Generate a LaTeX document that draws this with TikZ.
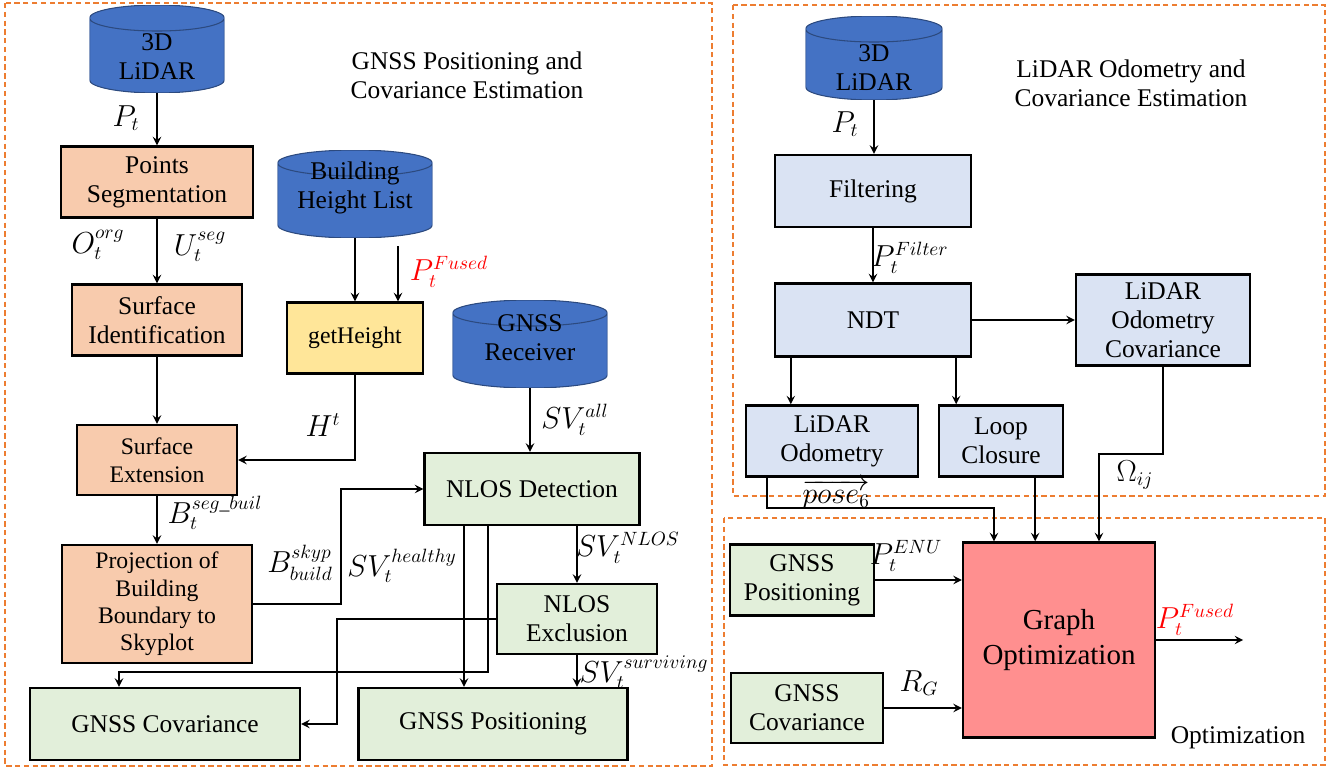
\documentclass[tikz,border=0pt]{standalone}
\usepackage{amsmath}
\usepackage{fontspec}
\setmainfont{Liberation Serif}
\usepackage{tikz}
\usetikzlibrary{shapes.geometric, arrows, calc}
\definecolor{cylblue}{HTML}{4472C4}
\definecolor{peach}{HTML}{F8CBAD}
\definecolor{sand}{HTML}{FFE699}
\definecolor{mint}{HTML}{E2EFDA}
\definecolor{sky}{HTML}{DAE3F3}
\definecolor{rose}{HTML}{FF8F8F}
\definecolor{frameorange}{HTML}{ED7D31}
\tikzstyle{store} = [rectangle, inner sep=0pt, path picture={
    \filldraw [fill=cylblue, draw=cylblue!65!black, line width=0.6pt]
      let \p1=(path picture bounding box.north west), \p2=(path picture bounding box.south east),
          \n1={(\x2-\x1)/2} in
      (\x1,\y1-7.4pt) -- (\x1,\y2+7.4pt) arc[start angle=180, end angle=360, x radius=\n1*1pt, y radius=7.4pt]
      -- (\x2,\y1-7.4pt) arc[start angle=0, end angle=180, x radius=\n1*1pt, y radius=7.4pt] -- cycle
      ({(\x1+\x2)/2},\y1-7.4pt) ellipse[x radius=\n1*1pt, y radius=7.4pt];
    }]
\tikzstyle{segstep} = [rectangle, inner sep=0pt, align=center, draw=black, line width=1.4pt, fill=peach]
\tikzstyle{heightstep} = [segstep, fill=sand]
\tikzstyle{gnssstep} = [segstep, fill=mint]
\tikzstyle{lidarstep} = [segstep, fill=sky]
\tikzstyle{optstep} = [segstep, fill=rose]
\tikzstyle{arrow} = [line width=1.1pt,->,>=stealth]
\tikzstyle{frame} = [draw=frameorange, line width=1.3pt, dash pattern=on 3pt off 2pt]
\tikzstyle{sym} = [font=\fontsize{16}{18}\selectfont]

\begin{document}
\begin{tikzpicture}[x=0.02cm, y=-0.02cm, font=\rmfamily\fontsize{14.5}{16.5}\selectfont]
        \useasboundingbox (0,0) rectangle (1340,771);
        % dashed panels
        \draw [frame] (5,3) rectangle (712,766);
        \draw [frame] (733,5) rectangle (1325,496);
        \draw [frame] (724,518) rectangle (1325,765);
        \node (gnsstitle) at (467,75) [align=center] {GNSS Positioning and\\Covariance Estimation};
        \node (lidartitle) at (1131,83) [align=center] {LiDAR Odometry and\\Covariance Estimation};
        \node (opttitle) at (1238,738) {Optimization};

        % GNSS part
        \node (lidarA) at (157,49) [store, minimum width=2.7cm, minimum height=1.76cm,
            label={[align=center, yshift=-0.16cm]center:3D\\LiDAR}] {};
        \node (seg) at (157,182) [segstep, minimum width=3.84cm, minimum height=1.42cm] {Points\\Segmentation};
        \node (surfid) at (157,320) [segstep, minimum width=3.4cm, minimum height=1.42cm] {Surface\\Identification};
        \node (surfext) at (157,460) [segstep, minimum width=3.2cm, minimum height=1.4cm, font=\fontsize{13.5}{16}\selectfont] {Surface\\Extension};
        \node (proj) at (157,604) [segstep, minimum width=3.8cm, minimum height=2.36cm, font=\fontsize{13.5}{15.5}\selectfont] {Projection of\\Building\\Boundary to\\Skyplot};
        \node (bhl) at (355,194) [store, minimum width=3.1cm, minimum height=1.76cm,
            label={[align=center, yshift=0.13cm]center:Building\\Height List}] {};
        \node (geth) at (355,338) [heightstep, minimum width=2.72cm, minimum height=1.42cm, font=\fontsize{13.5}{16}\selectfont] {getHeight};
        \node (gnssrx) at (530,344) [store, minimum width=3.1cm, minimum height=1.76cm,
            label={[align=center, yshift=0.12cm]center:GNSS\\Receiver}] {};
        \node (nlosdet) at (532,489) [gnssstep, minimum width=4.3cm, minimum height=1.44cm] {NLOS Detection};
        \node (nlosexc) at (577,619) [gnssstep, minimum width=3.2cm, minimum height=1.4cm] {NLOS\\Exclusion};
        \node (gcov) at (165,724) [gnssstep, minimum width=5.4cm, minimum height=1.44cm] {GNSS Covariance};
        \node (gpos) at (493,724) [gnssstep, minimum width=5.38cm, minimum height=1.44cm] {GNSS Positioning};
        \coordinate (fusedin) at (398,246);

        \draw [arrow] (lidarA) -- (seg);
        \draw [arrow] (seg) -- (surfid);
        \draw [arrow] (surfid) -- (surfext);
        \draw [arrow] (surfext) -- (proj);
        \draw [arrow] (bhl.south) -- (bhl.south |- geth.north);
        \draw [arrow] (fusedin) -- (fusedin |- geth.north);
        \draw [arrow] (geth.south) |- (surfext.east);
        \draw [arrow] (proj.east) -- ++(88,0) |- (nlosdet.west);
        \draw [arrow] (gnssrx.south) -- (gnssrx.south |- nlosdet.north);
        \coordinate (healthy) at ($(nlosdet.south)+(-68,0)$);
        \coordinate (tocov) at ($(nlosdet.south)+(-44,0)$);
        \draw [arrow] (healthy) -- (healthy |- gpos.north);
        \draw [arrow] (tocov) -- ++(0,146) -| ($(gcov.north)+(-46,0)$);
        \draw [arrow] (nlosexc.north |- nlosdet.south) -- (nlosexc.north);
        \draw [arrow] (nlosexc.west) -- ++(-159,0) |- (gcov.east);
        \draw [arrow] (nlosexc.south) -- (nlosexc.south |- gpos.north);

        \node (lblpt) at (126,118) [sym] {$P_t$};
        \node (lblorg) at (98,245) [sym] {$O_t^{org}$};
        \node (lblseg) at (200,247) [sym] {$U_t^{seg}$};
        \node (lblfusedA) at (449,272) [sym, red] {$P_t^{Fused}$};
        \node (lblht) at (323,425) [sym] {$H^t$};
        \node (lblbuil) at (215,513) [sym] {$B_t^{seg\_buil}$};
        \node (lblskyp) at (300,563) [sym] {$B_{build}^{skyp}$};
        \node (lblhealthy) at (402,566) [sym] {$SV_t^{healthy}$};
        \node (lblall) at (575,420) [sym] {$SV_t^{all}$};
        \node (lblnlos) at (628,548) [sym] {$SV_t^{NLOS}$};
        \node (lblsurv) at (644,672) [sym] {$SV_t^{surviving}$};

        % LiDAR part
        \node (lidarB) at (874,58) [store, minimum width=2.74cm, minimum height=1.68cm,
            label={[align=center, yshift=-0.2cm]center:3D\\LiDAR}] {};
        \node (filt) at (873,191) [lidarstep, minimum width=3.92cm, minimum height=1.44cm] {Filtering};
        \node (ndt) at (873,320) [lidarstep, minimum width=3.92cm, minimum height=1.46cm] {NDT};
        \node (locov) at (1163,320) [lidarstep, minimum width=3.48cm, minimum height=1.82cm] {LiDAR\\Odometry\\Covariance};
        \node (lodom) at (832,441) [lidarstep, minimum width=3.44cm, minimum height=1.42cm] {LiDAR\\Odometry};
        \node (loop) at (1001,441) [lidarstep, minimum width=2.48cm, minimum height=1.42cm] {Loop\\Closure};

        % optimization part
        \node (graph) at (1059,640) [optstep, minimum width=3.84cm, minimum height=3.9cm, font=\fontsize{16.5}{20}\selectfont] {Graph\\Optimization};
        \node (gpos2) at (802,580) [gnssstep, minimum width=2.88cm, minimum height=1.42cm] {GNSS\\Positioning};
        \node (gcov2) at (807,708) [gnssstep, minimum width=3.04cm, minimum height=1.4cm] {GNSS\\Covariance};

        \draw [arrow] (lidarB.south) -- (lidarB.south |- filt.north);
        \draw [arrow] (filt) -- (ndt);
        \draw [arrow] (ndt.east) -- (ndt.east -| locov.west);
        \coordinate (toodom) at ($(ndt.south west)+(17,0)$);
        \coordinate (toloop) at ($(ndt.south east)+(-16,0)$);
        \draw [arrow] (toodom) -- (toodom |- lodom.north);
        \draw [arrow] (toloop) -- (toloop |- loop.north);
        \draw [arrow] (locov.south) -- ++(0,87) -| ($(graph.north)+(40,0)$);
        \draw [arrow] ($(lodom.south west)+(22,0)$) -- ++(0,30) -| ($(graph.north)+(-65,0)$);
        \coordinate (fromloop) at ($(loop.south east)+(-29,0)$);
        \draw [arrow] (fromloop) -- (fromloop |- graph.north);
        \draw [arrow] (gpos2.east) -- (gpos2.east -| graph.west);
        \draw [arrow] (gcov2.east) -- (gcov2.east -| graph.west);
        \draw [arrow] (graph.east) -- ++(87,0);

        \node (lblptB) at (845,124) [sym] {$P_t$};
        \node (lblfilter) at (910,258) [sym] {$P_t^{Filter}$};
        \node (lblomega) at (1135,475) [sym] {$\Omega_{ij}$};
        \node (lblpose) at (836,494) [sym] {$\overrightarrow{pose_6}$};
        \node (lblenu) at (906,556) [sym] {$P_t^{ENU}$};
        \node (lblrg) at (919,683) [sym] {$R_G$};
        \node (lblfusedB) at (1195,620) [sym, red] {$P_t^{Fused}$};
    \end{tikzpicture}
\end{document}
